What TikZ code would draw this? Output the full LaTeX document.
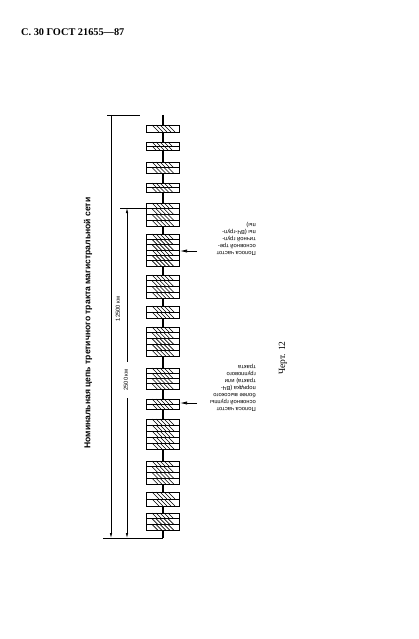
\documentclass[tikz,border=0pt]{standalone}
\usepackage{fontspec}
\setmainfont{Liberation Serif}
\newfontfamily\sansf{Liberation Sans}
\usetikzlibrary{arrows.meta}
\begin{document}
\begin{tikzpicture}[x=1pt,y=-1pt,
  blk/.style={draw, line width=1pt, fill=white, minimum width=33pt, inner sep=0pt, anchor=north},
  strip/.style={line width=0.9pt},
  chain/.style={line width=1.2pt},
  hatch/.style={line width=0.6pt},
  dim/.style={line width=0.6pt},
  tipA/.style={{Latex[length=5pt,width=2.4pt]}-},
  tipB/.style={-{Latex[length=5pt,width=2.4pt]}},
  lbl/.style={font=\sansf\fontsize{5.8}{7}\selectfont, align=left, rotate=180, anchor=north west, inner sep=0pt},
  ptr/.style={line width=0.7pt, -{Latex[length=7pt,width=3.2pt]}},
  dimtxt/.style={font=\sansf\fontsize{5.8}{6.5}\selectfont, rotate=90, inner sep=0.5pt}]
\useasboundingbox (0,0) rectangle (419,639);
\node[anchor=west, inner sep=0pt, font=\bfseries\fontsize{10.3}{12}\selectfont] (hdr) at (21,32) {С. 30 ГОСТ 21655---87};
\node[rotate=90, inner sep=0pt, font=\sansf\bfseries\fontsize{8.6}{10}\selectfont] (title) at (88,323) {Номинальная цепь третичного тракта магистральной сети};
\node[rotate=90, inner sep=0pt, font=\fontsize{9.5}{11}\selectfont] (fig) at (283,358) {Черт. 12};
% blocks
\foreach \t/\b/\n [count=\i] in {125/132/1, 142/150/2, 162/173/2, 183/192/2, 203/226/4, 234/266/6, 275/298/4, 306/318/2, 327/356/5, 368/389/4, 399/409/2, 419/449/5, 461/484/4, 492/506/2, 513/530/3}{
  \pgfmathsetmacro\hh{(\b-\t)/\n}
  \node[blk, minimum height={(\b-\t)*1pt}] (b\i) at (163,\t) {};
  \foreach \k in {1,...,\n}{
    \pgfmathsetmacro\ya{\t+(\k-1)*\hh}
    \pgfmathsetmacro\yb{\t+\k*\hh}
    \draw[strip] (146.5,\ya) rectangle (179.5,\yb);
    \foreach \j in {0,...,4}{
      \draw[hatch] ({152+4*\j},\ya) -- ({152+4*\j+\hh},\yb);
    }
  }
}
% chain
\coordinate (top) at (163,115);
\coordinate (bot) at (163,538);
\draw[chain] (top) -- (b1.north);
\foreach \i in {1,...,14}{
  \pgfmathtruncatemacro\nx{\i+1}
  \draw[chain] (b\i.south) -- (b\nx.north);
}
\draw[chain] (b15.south) -- (bot);
% dimension lines
\coordinate (e1a) at (107,115);
\coordinate (e1b) at (140,115);
\coordinate (e2a) at (120,208);
\coordinate (e3a) at (103,538);
\draw[dim] (e1a) -- (e1b);
\draw[dim] (e2a) -- (b5.west |- e2a);
\draw[dim] (e3a) -- (bot);
\coordinate (d1t) at (111,115);
\coordinate (d1b) at (111,538);
\draw[dim, tipA, tipB] (d1t) -- (d1b);
\node[dimtxt] (l1) at (118,309) {12500 км};
\coordinate (d2t) at (127,208);
\coordinate (d2b) at (127,538);
\coordinate (g2a) at (127,362);
\coordinate (g2b) at (127,398);
\draw[dim, tipA] (d2t) -- (g2a);
\draw[dim, tipB] (g2b) -- (d2b);
\node[dimtxt] (l2) at (126,380) {2500 км};
% labels
\node[lbl] (t1) at (256,256) {Полоса частот\\основной тре-\\тичной груп-\\пы (ВЧ-груп-\\пы)};
\node[lbl] (t2) at (256,412) {Полоса частот\\основной группы\\более высокого\\порядка (ВЧ-\\тракта) или\\группового\\тракта};
\coordinate (a1) at (197,251);
\coordinate (a2) at (197,403);
\draw[ptr] (a1) -- (b6.east |- a1);
\draw[ptr] (a2) -- (b11.east |- a2);
\end{tikzpicture}
\end{document}
